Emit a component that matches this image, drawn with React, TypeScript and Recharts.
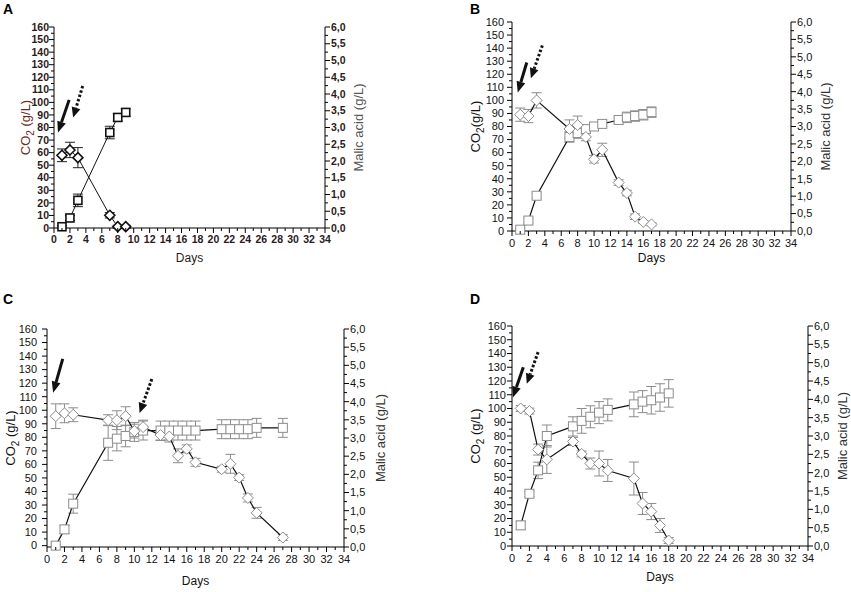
import React from "react";
import { ComposedChart, Line, XAxis, YAxis, ErrorBar, ReferenceLine, Label } from "recharts";

// tick labels
const dayTicks = [0, 2, 4, 6, 8, 10, 12, 14, 16, 18, 20, 22, 24, 26, 28, 30, 32, 34];
const co2Ticks = [0, 10, 20, 30, 40, 50, 60, 70, 80, 90, 100, 110, 120, 130, 140, 150, 160];
const malicTicks = [0, 0.5, 1, 1.5, 2, 2.5, 3, 3.5, 4, 4.5, 5, 5.5, 6];

// A
const daysA = [1, 2, 3, 7, 8, 9];
const co2A = [1, 8, 22, 76, 88, 92];
const co2ErrA = [1, 2, 5, 5, 3, 3];
const malicA = [2.17, 2.33, 2.1, 0.38, 0.04, 0.04];
const malicErrA = [0.19, 0.23, 0.3, 0.08, 0.04, 0.04];

// B
const daysB = [1, 2, 3, 7, 8, 9, 10, 11, 13, 14, 15, 16, 17];
const co2B = [1, 8, 27, 72, 75, 78, 80, 82, 85, 87, 88, 89, 91];
const co2ErrB = [1, 2, 2, 4, 4, 3, 2, 2, 2, 4, 4, 4, 4];
const malicB = [3.34, 3.3, 3.75, 2.93, 3.04, 2.7, 2.06, 2.33, 1.39, 1.09, 0.41, 0.26, 0.19];
const malicErrB = [0.19, 0.19, 0.22, 0.26, 0.26, 0.11, 0.11, 0.19, 0.08, 0.08, 0.08, 0.04, 0.04];

// C
const daysC = [1, 2, 3, 7, 8, 9, 10, 11, 13, 14, 15, 16, 17, 20, 21, 22, 23, 24, 27];
const co2C = [0, 12, 31, 76, 79, 81, 84, 85, 85, 85, 85, 85, 85, 86, 86, 86, 86, 87, 87];
const co2ErrC = [1, 3, 7, 13, 9, 8, 7, 7, 7, 7, 7, 7, 7, 7, 7, 7, 7, 7, 7];
const malicC = [3.6, 3.68, 3.64, 3.49, 3.49, 3.6, 3.19, 3.3, 3.08, 3.04, 2.51, 2.7, 2.33, 2.14, 2.29, 1.91, 1.35, 0.94, 0.26];
const malicErrC = [0.34, 0.26, 0.19, 0.15, 0.26, 0.26, 0.19, 0.19, 0.15, 0.15, 0.19, 0.11, 0.11, 0.08, 0.26, 0.08, 0.11, 0.15, 0.08];

// D
const daysD = [1, 2, 3, 4, 7, 8, 9, 10, 11, 14, 15, 16, 17, 18];
const co2D = [15, 38, 55, 80, 87, 91, 94, 97, 99, 103, 105, 106, 108, 111];
const co2ErrD = [3, 2, 6, 8, 7, 9, 8, 8, 8, 9, 8, 10, 10, 10];
const malicD = [3.75, 3.68, 2.63, 2.36, 2.85, 2.51, 2.25, 2.25, 2.06, 1.84, 1.16, 0.94, 0.56, 0.15];
const malicErrD = [0.08, 0.08, 0.15, 0.38, 0.11, 0.08, 0.15, 0.34, 0.3, 0.45, 0.3, 0.22, 0.19, 0.08];

// arrows [startDay, startCo2, tipDay, tipCo2]
const arrowsA = { solid: [1.9, 102, 0.5, 76], dotted: [3.6, 113, 2.4, 88] };
const arrowsB = { solid: [1.8, 129, 0.7, 106], dotted: [3.7, 142, 2.3, 117] };
const arrowsC = { solid: [1.8, 138, 0.7, 113], dotted: [12.0, 123, 10.6, 98] };
const arrowsD = { solid: [1.3, 130, 0.1, 108], dotted: [3.0, 141, 1.7, 118] };

const FONT = '"Liberation Sans", Arial, sans-serif';

function withMinor(major: number[]) {
  const out: number[] = [];
  major.forEach((v, i) => {
    out.push(v);
    if (i < major.length - 1) out.push((v + major[i + 1]) / 2);
  });
  return out;
}

const fmtComma = (v: number) => v.toFixed(1).replace(".", ",");

const TS = 5;
const TM = 4;

function makeTick(side: "bottom" | "left" | "right", majors: number[], fmt: (v: number) => string, st: any, gap = 9) {
  return (p: any) => {
    const v = p.payload.value;
    const major = majors.includes(v);
    const len = major ? 5 : 3;
    const textProps = { fontSize: st.tickFont, fill: st.text, fontFamily: FONT, fontWeight: st.weight };
    if (side === "bottom") {
      const ay = p.y - TS - TM;
      return (
        <g>
          <line x1={p.x} x2={p.x} y1={ay} y2={ay + len} stroke="#000" strokeWidth={1} />
          {major && (
            <text x={p.x} y={p.y - 1} dy="0.71em" textAnchor="middle" {...textProps}>
              {fmt(v)}
            </text>
          )}
        </g>
      );
    }
    if (side === "left") {
      const ax = p.x + TS + TM;
      return (
        <g>
          <line x1={ax} x2={ax - len} y1={p.y} y2={p.y} stroke="#000" strokeWidth={1} />
          {major && (
            <text x={ax - gap} y={p.y} dy="0.35em" textAnchor="end" {...textProps}>
              {fmt(v)}
            </text>
          )}
        </g>
      );
    }
    const ax = p.x - TS - TM;
    return (
      <g>
        <line x1={ax} x2={ax + len} y1={p.y} y2={p.y} stroke="#000" strokeWidth={1} />
        {major && (
          <text x={ax + gap} y={p.y} dy="0.35em" textAnchor="start" {...textProps}>
            {fmt(v)}
          </text>
        )}
      </g>
    );
  };
}

function arrowShape(dotted: boolean) {
  return (p: any) => {
    const { x1, y1, x2, y2 } = p;
    const dx = x2 - x1;
    const dy = y2 - y1;
    const L = Math.sqrt(dx * dx + dy * dy) || 1;
    const ux = dx / L;
    const uy = dy / L;
    const head = dotted ? 10 : 11;
    const hw = 4.5;
    const bx = x2 - ux * head;
    const by = y2 - uy * head;
    return (
      <g>
        <line
          x1={x1}
          y1={y1}
          x2={bx}
          y2={by}
          stroke="#111"
          strokeWidth={3}
          strokeDasharray={dotted ? "2.5 2" : undefined}
        />
        <polygon
          points={`${x2},${y2} ${bx - uy * hw},${by + ux * hw} ${bx + uy * hw},${by - ux * hw}`}
          fill="#111"
        />
      </g>
    );
  };
}

function Panel({ cfg }: { cfg: any }) {
  const { box, plot, st } = cfg;
  const yW = 44;
  const yWR = 40;
  const xH = 36;
  const margin = {
    left: plot.l - yW,
    right: box.w - plot.r - yWR,
    top: plot.t,
    bottom: box.h - plot.b - xH,
  };
  const data = cfg.days.map((d: number, i: number) => ({
    day: d,
    co2: cfg.co2[i],
    co2Err: cfg.co2Err[i],
    malic: cfg.malic[i],
    malicErr: cfg.malicErr[i],
  }));
  const square = (p: any) => {
    const s = st.sq;
    return (
      <rect
        key={`s${p.index}`}
        x={p.cx - s / 2}
        y={p.cy - s / 2}
        width={s}
        height={s}
        fill="#fff"
        stroke={st.mark}
        strokeWidth={st.mw}
      />
    );
  };
  const diamond = (p: any) => {
    const r = st.dm / 2;
    return (
      <polygon
        key={`d${p.index}`}
        points={`${p.cx},${p.cy - r} ${p.cx + r},${p.cy} ${p.cx},${p.cy + r} ${p.cx - r},${p.cy}`}
        fill="#fff"
        stroke={st.mark}
        strokeWidth={st.mw}
      />
    );
  };
  const titleFont = { fontFamily: FONT, fontSize: 13, fill: st.text };
  const a = cfg.arrows;
  return (
    <div style={{ position: "absolute", left: box.x, top: box.y, width: box.w, height: box.h }}>
      <ComposedChart width={box.w} height={box.h} data={data} margin={margin}>
        <XAxis
          type="number"
          dataKey="day"
          domain={[0, 34]}
          ticks={withMinor(dayTicks)}
          interval={0}
          height={xH}
          tickSize={TS}
          tickMargin={TM}
          tickLine={false}
          axisLine={{ stroke: "#000" }}
          tick={makeTick("bottom", dayTicks, (v) => String(v), st)}
        >
          <Label
            content={(lp: any) => {
              const vb = lp.viewBox;
              return (
                <text
                  x={vb.x + vb.width / 2}
                  y={vb.y + cfg.daysOff}
                  dy="0.35em"
                  textAnchor="middle"
                  {...titleFont}
                  fontSize={12}
                >
                  Days
                </text>
              );
            }}
          />
        </XAxis>
        <YAxis
          yAxisId="co2"
          type="number"
          domain={[0, 160]}
          ticks={withMinor(co2Ticks)}
          interval={0}
          width={yW}
          tickSize={TS}
          tickMargin={TM}
          tickLine={false}
          axisLine={{ stroke: "#000" }}
          tick={makeTick("left", co2Ticks, (v) => String(v), st, cfg.leftGap)}
        >
          <Label
            content={(lp: any) => {
              const vb = lp.viewBox;
              const cx = vb.x + vb.width - cfg.co2Off;
              const cy = vb.y + vb.height / 2;
              return (
                <text
                  x={cx}
                  y={cy}
                  dy="0.35em"
                  textAnchor="middle"
                  transform={`rotate(-90 ${cx} ${cy})`}
                  {...titleFont}
                  fill={st.co2Title}
                >
                  CO
                  <tspan dy={4} fontSize={10}>
                    2
                  </tspan>
                  <tspan dy={-4}>{cfg.co2Space ? " (g/L)" : "(g/L)"}</tspan>
                </text>
              );
            }}
          />
        </YAxis>
        <YAxis
          yAxisId="malic"
          orientation="right"
          type="number"
          domain={[0, 6]}
          ticks={withMinor(malicTicks)}
          interval={0}
          width={yWR}
          tickSize={TS}
          tickMargin={TM}
          tickLine={false}
          axisLine={{ stroke: "#000" }}
          tick={makeTick("right", malicTicks, fmtComma, st, 6)}
        >
          <Label
            content={(lp: any) => {
              const vb = lp.viewBox;
              const cx = vb.x + cfg.malicOff;
              const cy = vb.y + vb.height / 2;
              return (
                <text
                  x={cx}
                  y={cy}
                  dy="0.35em"
                  textAnchor="middle"
                  transform={`rotate(-90 ${cx} ${cy})`}
                  {...titleFont}
                  fill={st.malicTitle}
                >
                  Malic acid (g/L)
                </text>
              );
            }}
          />
        </YAxis>
        <ReferenceLine
          yAxisId="co2"
          segment={[
            { x: a.solid[0], y: a.solid[1] },
            { x: a.solid[2], y: a.solid[3] },
          ]}
          ifOverflow="visible"
          shape={arrowShape(false)}
        />
        <ReferenceLine
          yAxisId="co2"
          segment={[
            { x: a.dotted[0], y: a.dotted[1] },
            { x: a.dotted[2], y: a.dotted[3] },
          ]}
          ifOverflow="visible"
          shape={arrowShape(true)}
        />
        <Line
          yAxisId="co2"
          dataKey="co2"
          stroke="#111"
          strokeWidth={st.lw}
          dot={square}
          activeDot={false}
          isAnimationActive={false}
        >
          <ErrorBar dataKey="co2Err" width={5} stroke={st.err} strokeWidth={1} direction="y" isAnimationActive={false} />
        </Line>
        <Line
          yAxisId="malic"
          dataKey="malic"
          stroke="#111"
          strokeWidth={st.lw}
          dot={diamond}
          activeDot={false}
          isAnimationActive={false}
        >
          <ErrorBar dataKey="malicErr" width={5} stroke={st.err} strokeWidth={1} direction="y" isAnimationActive={false} />
        </Line>
      </ComposedChart>
      <div
        style={{
          position: "absolute",
          left: cfg.letter[0],
          top: cfg.letter[1],
          fontFamily: FONT,
          fontWeight: "bold",
          fontSize: 14,
          lineHeight: "14px",
          color: "#000",
        }}
      >
        {cfg.id}
      </div>
    </div>
  );
}

const styleA = {
  tickFont: 10.5,
  text: "#2a1a1a",
  weight: 600,
  mark: "#111",
  mw: 1.6,
  err: "#222",
  lw: 1,
  sq: 8,
  dm: 10,
  co2Title: "#6b2a22",
  malicTitle: "#555",
};
const styleG = {
  tickFont: 11,
  text: "#111",
  weight: 400,
  mark: "#8c8c8c",
  mw: 1,
  err: "#8c8c8c",
  lw: 1.2,
  sq: 9,
  dm: 11,
  co2Title: "#111",
  malicTitle: "#333",
};

const panels = [
  {
    id: "A",
    box: { x: 0, y: 0, w: 425, h: 270 },
    plot: { l: 54, r: 325, t: 27, b: 228 },
    letter: [3, 2],
    days: daysA,
    co2: co2A,
    co2Err: co2ErrA,
    malic: malicA,
    malicErr: malicErrA,
    arrows: arrowsA,
    daysOff: 30,
    co2Off: 29,
    malicOff: 33,
    leftGap: 5,
    co2Space: true,
    st: styleA,
  },
  {
    id: "B",
    box: { x: 425, y: 0, w: 426, h: 270 },
    plot: { l: 87, r: 366, t: 22, b: 231 },
    letter: [45, 2],
    days: daysB,
    co2: co2B,
    co2Err: co2ErrB,
    malic: malicB,
    malicErr: malicErrB,
    arrows: arrowsB,
    daysOff: 27,
    co2Off: 37,
    malicOff: 34,
    leftGap: 8,
    co2Space: false,
    st: styleG,
  },
  {
    id: "C",
    box: { x: 0, y: 290, w: 425, h: 302 },
    plot: { l: 47, r: 344, t: 39, b: 257 },
    letter: [3, 2],
    days: daysC,
    co2: co2C,
    co2Err: co2ErrC,
    malic: malicC,
    malicErr: malicErrC,
    arrows: arrowsC,
    daysOff: 34,
    co2Off: 37,
    malicOff: 36,
    leftGap: 10,
    co2Space: true,
    st: styleG,
  },
  {
    id: "D",
    box: { x: 425, y: 290, w: 426, h: 302 },
    plot: { l: 87, r: 383, t: 36, b: 256 },
    letter: [45, 2],
    days: daysD,
    co2: co2D,
    co2Err: co2ErrD,
    malic: malicD,
    malicErr: malicErrD,
    arrows: arrowsD,
    daysOff: 31,
    co2Off: 37,
    malicOff: 34,
    leftGap: 6,
    co2Space: true,
    st: styleG,
  },
];

export default function App() {
  return (
    <div style={{ position: "absolute", left: 0, top: 0, width: 851, height: 592, background: "#fff", overflow: "hidden" }}>
      {panels.map((p) => (
        <Panel key={p.id} cfg={p} />
      ))}
    </div>
  );
}
